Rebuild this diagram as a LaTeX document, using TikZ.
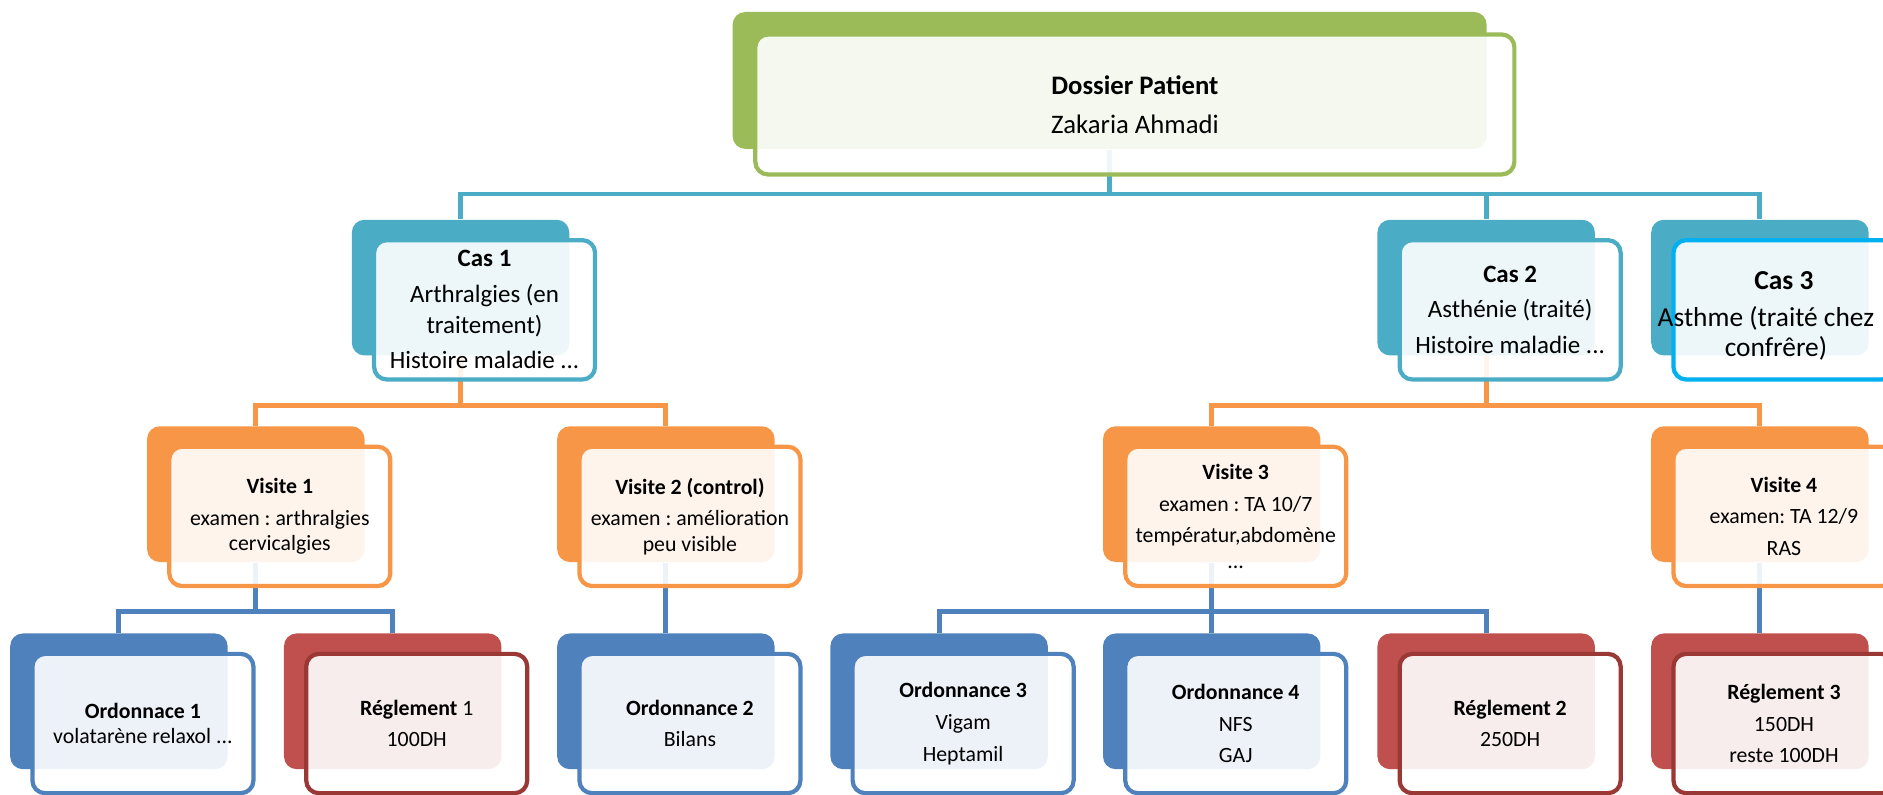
\documentclass[tikz,border=0pt]{standalone}
\usepackage{fontspec}
\setmainfont{Carlito}
\usetikzlibrary{calc}
\definecolor{dosgreen}{HTML}{9BBB59}
\definecolor{casteal}{HTML}{4BACC6}
\definecolor{visorange}{HTML}{F79646}
\definecolor{ordblue}{HTML}{4F81BD}
\definecolor{regred}{HTML}{C0504D}
\definecolor{regdark}{HTML}{993835}
\definecolor{cyanedge}{HTML}{00B0F0}
\frenchspacing

\begin{document}
\begin{tikzpicture}[x=0.12009mm, y=-0.12009mm,
  boxback/.style={rectangle, rounded corners=3.6pt, inner sep=0pt, minimum width=21.74mm, minimum height=13.57mm, fill=#1},
  boxfront/.style={rectangle, rounded corners=3.6pt, inner sep=0pt, minimum width=22.1mm, minimum height=13.93mm, draw=#1, line width=1.2pt, fill=white, fill opacity=0.9, text opacity=1, align=center},
  dosfont/.style={font=\fontsize{7.6}{9}\selectfont},
  casfont/.style={font=\fontsize{7.1}{8.6}\selectfont},
  bigcasfont/.style={font=\fontsize{7.8}{8.4}\selectfont},
  smallfont/.style={font=\fontsize{6.2}{7.3}\selectfont},
  link/.style={draw=#1, line width=1.4pt}]
\useasboundingbox (0,0) rectangle (1568,662);
\clip (0,0) rectangle (1568,662);

\node[boxback=dosgreen, minimum width=75.4mm, minimum height=13.69mm] (dosb) at (924,67) {};
\node[boxback=casteal] (c1b) at (383.5,239.5) {};
\node[boxback=casteal] (c2b) at (1237.5,239.5) {};
\node[boxback=casteal] (c3b) at (1465.5,239.5) {};
\node[boxback=visorange] (v1b) at (213,411.5) {};
\node[boxback=visorange] (v2b) at (554.5,411.5) {};
\node[boxback=visorange] (v3b) at (1009,411.5) {};
\node[boxback=visorange] (v4b) at (1465.5,411.5) {};
\node[boxback=ordblue] (o1b) at (99,584) {};
\node[boxback=regred] (r1b) at (327,584) {};
\node[boxback=ordblue] (o2b) at (554.5,584) {};
\node[boxback=ordblue] (o3b) at (782,584) {};
\node[boxback=ordblue] (o4b) at (1009,584) {};
\node[boxback=regred] (r2b) at (1237.5,584) {};
\node[boxback=regred] (r3b) at (1465.5,584) {};

\draw[link=casteal] (dosb.south) -- ++(0,37) -| (c1b.north);
\draw[link=casteal] (dosb.south) -- ++(0,37) -| (c2b.north);
\draw[link=casteal] (dosb.south) -- ++(0,37) -| (c3b.north);
\draw[link=visorange] (c1b.south) -- ++(0,41) -| (v1b.north);
\draw[link=visorange] (c1b.south) -- ++(0,41) -| (v2b.north);
\draw[link=visorange] (c2b.south) -- ++(0,41) -| (v3b.north);
\draw[link=visorange] (c2b.south) -- ++(0,41) -| (v4b.north);
\draw[link=ordblue] (v1b.south) -- ++(0,41) -| (o1b.north);
\draw[link=ordblue] (v1b.south) -- ++(0,41) -| (r1b.north);
\draw[link=ordblue] (v2b.south) -- (o2b.north);
\draw[link=ordblue] (v3b.south) -- ++(0,41) -| (o3b.north);
\draw[link=ordblue] (v3b.south) -- ++(0,41) -| (o4b.north);
\draw[link=ordblue] (v3b.south) -- ++(0,41) -| (r2b.north);
\draw[link=ordblue] (v4b.south) -- (r3b.north);

\node[boxfront=dosgreen, dosfont, minimum width=75.9mm, minimum height=14.0mm] (dos) at ([shift={(21,20)}]dosb.center) {\textbf{Dossier Patient}\\[2pt] Zakaria Ahmadi};
\node[boxfront=casteal, casfont] (c1) at ([shift={(20,18.5)}]c1b.center) {\textbf{Cas 1}\\[1.6pt] Arthralgies (en\\ traitement)\\[1.6pt] Histoire maladie ...};
\node[boxfront=casteal, casfont] (c2) at ([shift={(20,18.5)}]c2b.center) {\textbf{Cas 2}\\[1.6pt] Asthénie (traité)\\[1.6pt] Histoire maladie ...};
\node[boxfront=cyanedge, bigcasfont] (c3) at ([shift={(20,18.5)}]c3b.center) {\rule{0pt}{8.6pt}\textbf{Cas 3}\\[2.2pt] \hspace*{-3.6mm}Asthme (traité chez\\ \hspace*{-1.6mm}confrêre)};
\node[boxfront=visorange, smallfont] (v1) at ([shift={(20,18.5)}]v1b.center) {\textbf{Visite 1}\\[1.7pt] examen : arthralgies\\ cervicalgies};
\node[boxfront=visorange, smallfont] (v2) at ([shift={(20,18.5)}]v2b.center) {\textbf{Visite 2 (control)}\\[1.7pt] examen : amélioration\\ peu visible};
\node[boxfront=visorange, smallfont] (v3) at ([shift={(20,18.5)}]v3b.center) {\textbf{Visite 3}\\[1.7pt] examen : TA 10/7\\[1.7pt] températur,abdomène\\ ...};
\node[boxfront=visorange, smallfont] (v4) at ([shift={(20,18.5)}]v4b.center) {\textbf{Visite 4}\\[1.7pt] examen: TA 12/9\\[1.7pt] RAS};
\node[boxfront=ordblue, smallfont] (o1) at ([shift={(20,18.5)}]o1b.center) {\textbf{Ordonnace 1}\\ volatarène relaxol ...};
\node[boxfront=regdark, smallfont] (r1) at ([shift={(20,18.5)}]r1b.center) {\textbf{Réglement} 1\\[1.7pt] 100DH};
\node[boxfront=ordblue, smallfont] (o2) at ([shift={(20,18.5)}]o2b.center) {\textbf{Ordonnance 2}\\[1.7pt] Bilans};
\node[boxfront=ordblue, smallfont] (o3) at ([shift={(20,18.5)}]o3b.center) {\textbf{Ordonnance 3}\\[1.7pt] Vigam\\[1.7pt] Heptamil};
\node[boxfront=ordblue, smallfont] (o4) at ([shift={(20,18.5)}]o4b.center) {\textbf{Ordonnance 4}\\[1.7pt] NFS\\[1.7pt] GAJ};
\node[boxfront=regdark, smallfont] (r2) at ([shift={(20,18.5)}]r2b.center) {\textbf{Réglement 2}\\[1.7pt] 250DH};
\node[boxfront=regdark, smallfont] (r3) at ([shift={(20,18.5)}]r3b.center) {\textbf{Réglement 3}\\[1.7pt] 150DH\\[1.7pt] reste 100DH};
\end{tikzpicture}
\end{document}
